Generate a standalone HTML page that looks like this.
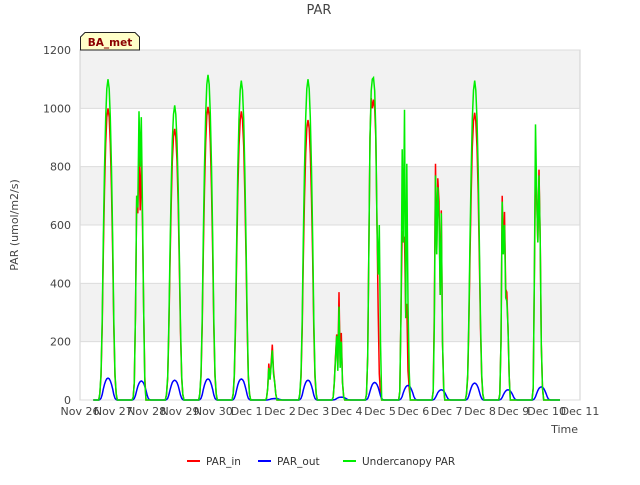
<!DOCTYPE html>
<html><head><meta charset="utf-8"><style>
body{margin:0;background:#fff;font-family:"Liberation Sans","DejaVu Sans",sans-serif}
svg text{font-family:"DejaVu Sans","Liberation Sans",sans-serif}
</style></head><body>
<svg id="chart" width="640" height="480" viewBox="0 0 640 480" xmlns="http://www.w3.org/2000/svg">
<g id="bands"></g>
<rect x="80" y="50" width="500" height="350" fill="none" stroke="#d0d0d0"/>
<g id="grid"></g>
<g id="series"></g>
<g id="axes"></g>
<text x="319" y="14" text-anchor="middle" font-size="13" fill="#444">PAR</text>
<text transform="translate(18,225) rotate(-90)" text-anchor="middle" font-size="11" fill="#444">PAR (umol/m2/s)</text>
<text x="578" y="433" text-anchor="end" font-size="11" fill="#444">Time</text>
<g>
<path d="M80.5,50 L80.5,37 L85,32.5 L135,32.5 L139.5,37 L139.5,50 Z" fill="#ffffc8" stroke="#222"/>
<text x="110" y="46" text-anchor="middle" font-size="10.5" font-weight="bold" fill="#8b0000">BA_met</text>
</g>
<g>
<g><line x1="187" y1="461" x2="200" y2="461" stroke="#ff0000" stroke-width="2"/><text x="206" y="465" font-size="10.5" fill="#333">PAR_in</text></g>
<g><line x1="258" y1="461" x2="271" y2="461" stroke="#0000ff" stroke-width="2"/><text x="277" y="465" font-size="10.5" fill="#333">PAR_out</text></g>
<g><line x1="343" y1="461" x2="356" y2="461" stroke="#00ee00" stroke-width="2"/><text x="362" y="465" font-size="10.5" fill="#333">Undercanopy PAR</text></g>
</g>
</svg>
<script>
const xTickLabels=["Nov 26","Nov 27","Nov 28","Nov 29","Nov 30","Dec 1","Dec 2","Dec 3","Dec 4","Dec 5","Dec 6","Dec 7","Dec 8","Dec 9","Dec 10","Dec 11"];
const yTicks=[0,200,400,600,800,1000,1200];
const profile=[0,0.02,0.08,0.25,0.5,0.72,0.88,0.97,1,0.97,0.88,0.72,0.5,0.25,0.08,0.02,0];
const parInPeaks=[1000,850,930,1005,990,150,960,230,1035,580,700,985,650,790];
const underPeaks=[1100,990,1010,1115,1095,130,1100,200,1105,870,740,1095,680,945];
const parOutPeaks=[75,65,68,72,72,5,68,10,60,50,35,58,35,45];
const underOverrides={1:[0,10,60,300,700,660,990,800,970,650,300,60,0,0,0,0,0],5:[0,5,40,110,70,120,170,90,60,20,0,0,0,0,0,0,0],7:[0,10,60,140,220,100,320,110,200,60,10,0,0,0,0,0,0],8:[0,20,150,500,900,1060,1100,1105,1060,920,600,430,600,200,0,0,0],9:[0,30,300,860,540,995,280,810,330,100,0,0,0,0,0,0,0],10:[0,30,250,770,500,730,620,360,640,200,40,0,0,0,0,0,0],12:[0,20,200,680,500,600,350,340,250,80,0,0,0,0,0,0,0],13:[0,40,400,945,700,540,770,550,190,40,0,0,0,0,0,0,0]};
const inOverrides={1:[0,10,60,300,700,640,850,650,820,600,300,80,0,0,0,0,0],5:[0,5,40,125,70,130,190,100,60,20,0,0,0,0,0,0,0],7:[0,10,60,150,225,110,370,120,230,60,10,0,0,0,0,0,0],8:[0,20,150,500,900,1035,1000,1030,1000,900,600,300,90,20,0,0,0],9:[0,30,300,580,540,560,300,330,100,40,0,0,0,0,0,0,0],10:[0,30,300,810,500,760,680,360,650,200,40,0,0,0,0,0,0],12:[0,20,200,700,500,645,380,370,250,80,0,0,0,0,0,0,0],13:[0,40,400,790,700,540,790,550,190,40,0,0,0,0,0,0,0]};
const startDay=0.4, sampleStart=0.56, sampleStep=0.035;
const X0=80,X1=580,Y0=400,Y1=50;
const xs=d=>X0+d*(X1-X0)/15;
const ys=v=>Y0-v*(Y0-Y1)/1200;
const NS="http://www.w3.org/2000/svg";
function mk(tag,attrs,parent){const e=document.createElementNS(NS,tag);for(const k in attrs)e.setAttribute(k,attrs[k]);parent.appendChild(e);return e;}
const bands=document.getElementById('bands'),grid=document.getElementById('grid'),axes=document.getElementById('axes'),series=document.getElementById('series');
for(let i=0;i<yTicks.length-1;i++){
  const r=mk('rect',{x:X0,y:ys(yTicks[i+1]),width:X1-X0,height:ys(yTicks[i])-ys(yTicks[i+1]),fill:i%2?'#f2f2f2':'#ffffff'},bands);
  
  
}
yTicks.forEach(v=>{
  const l=mk('line',{x1:X0,x2:X1,y1:ys(v),y2:ys(v),stroke:'#dcdcdc'},grid);
  
  
  const t=mk('text',{x:X0-9,y:ys(v)+4,'text-anchor':'end','font-size':11,fill:'#444'},axes);
  t.textContent=v;
  
  
});
xTickLabels.forEach((s,i)=>{
  const t=mk('text',{x:xs(i),y:415,'text-anchor':'middle','font-size':11,fill:'#444'},axes);
  t.textContent=s;
  
  
});
function build(peaks,overrides){
  const pts=[[startDay,0]];
  peaks.forEach((p,d)=>{
    const vals=overrides&&overrides[d]?overrides[d]:profile.map(f=>f*p);
    vals.forEach((v,j)=>pts.push([d+sampleStart+j*sampleStep,v]));
  });
  pts.push([14.4,0]);
  return pts.map((p,i)=>(i?'L':'M')+xs(p[0]).toFixed(1)+','+ys(p[1]).toFixed(1)).join(' ');
}
const pIn=mk('path',{d:build(parInPeaks,inOverrides),fill:'none',stroke:'#ff0000','stroke-width':1.5},series);


const pOut=mk('path',{d:build(parOutPeaks,null),fill:'none',stroke:'#0000ff','stroke-width':1.5},series);


const pUn=mk('path',{d:build(underPeaks,underOverrides),fill:'none',stroke:'#00ee00','stroke-width':1.5},series);


</script>
</body></html>
